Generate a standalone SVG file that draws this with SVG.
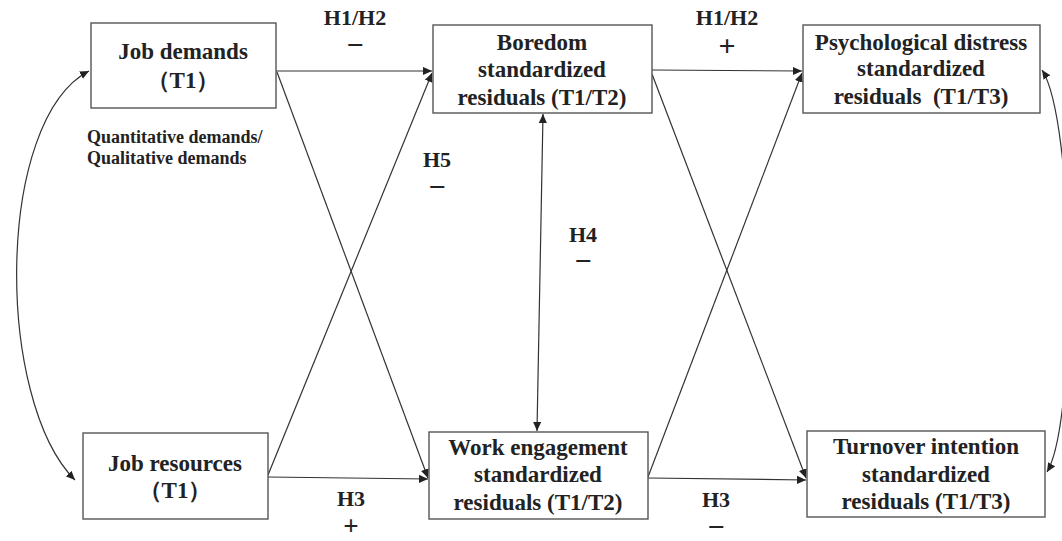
<svg xmlns="http://www.w3.org/2000/svg" width="1062" height="541" viewBox="0 0 1062 541">
<defs>
<style>
.box{fill:#fff;stroke:#555;stroke-width:1.4}
.t{font-family:"Liberation Serif","Times New Roman",serif;font-weight:bold;fill:#222;text-anchor:middle}
.n{font-size:23px}
.h{font-size:22px}
.s{font-size:30px}
.p{font-size:27px}
.q{font-size:18px;text-anchor:start}
.c{fill:none;stroke:#333;stroke-width:1.2}
</style>
<marker id="a" viewBox="0 0 10 10" refX="10" refY="5" markerWidth="9" markerHeight="9" markerUnits="userSpaceOnUse" orient="auto-start-reverse">
<path d="M0,0.5 L10,5 L0,9.5 Z" fill="#222"/>
</marker>
</defs>
<rect width="1062" height="541" fill="#fff"/>
<g id="connectors">
<path class="c" d="M276,71 L432,71" marker-end="url(#a)"/>
<path class="c" d="M277,72 L428,478" marker-end="url(#a)"/>
<path class="c" d="M268,475 L432,73" marker-end="url(#a)"/>
<path class="c" d="M268,477 L428,479" marker-end="url(#a)"/>
<path class="c" d="M652,70 L802,71" marker-end="url(#a)"/>
<path class="c" d="M652,74 L806,478" marker-end="url(#a)"/>
<path class="c" d="M648,477 L802,73" marker-end="url(#a)"/>
<path class="c" d="M648,478 L806,480" marker-end="url(#a)"/>
<path class="c" d="M543,114 L537,431" marker-start="url(#a)" marker-end="url(#a)"/>
<path class="c" d="M89,71 C-5,120 -5,400 75,480" marker-start="url(#a)" marker-end="url(#a)"/>
<path class="c" d="M1042,70 C1075,120 1078,420 1047,472" marker-start="url(#a)" marker-end="url(#a)"/>
</g>
<g id="job-demands">
<rect class="box" x="91" y="23" width="185" height="85"/>
<text class="t n" x="183" y="59">Job demands</text>
<text class="t n" x="183" y="88">（T1）</text>
</g>
<g id="demands-note">
<text class="t q" x="87" y="143">Quantitative demands/</text>
<text class="t q" x="87" y="164">Qualitative demands</text>
</g>
<g id="boredom">
<rect class="box" x="433" y="25" width="219" height="88"/>
<text class="t n" x="542" y="50">Boredom</text>
<text class="t n" x="542" y="77">standardized</text>
<text class="t n" x="542" y="105">residuals (T1/T2)</text>
</g>
<g id="psychological-distress">
<rect class="box" x="803" y="25" width="237" height="88"/>
<text class="t n" x="921" y="50">Psychological distress</text>
<text class="t n" x="921" y="76">standardized</text>
<text class="t n" x="921" y="104">residuals &#160;(T1/T3)</text>
</g>
<g id="job-resources">
<rect class="box" x="83" y="433" width="185" height="86"/>
<text class="t n" x="175" y="471">Job resources</text>
<text class="t n" x="175" y="498">（T1）</text>
</g>
<g id="work-engagement">
<rect class="box" x="429" y="432" width="219" height="87"/>
<text class="t n" x="538" y="455">Work engagement</text>
<text class="t n" x="538" y="482">standardized</text>
<text class="t n" x="538" y="510">residuals (T1/T2)</text>
</g>
<g id="turnover-intention">
<rect class="box" x="807" y="431" width="238" height="86"/>
<text class="t n" x="926" y="454">Turnover intention</text>
<text class="t n" x="926" y="482">standardized</text>
<text class="t n" x="926" y="509">residuals (T1/T3)</text>
</g>
<g id="labels">
<text class="t h" x="355" y="25">H1/H2</text>
<text class="t s" x="355" y="55">−</text>
<text class="t h" x="727" y="25">H1/H2</text>
<text class="t s" x="727" y="56">+</text>
<text class="t h" x="351" y="506">H3</text>
<text class="t p" x="351" y="535">+</text>
<text class="t h" x="437" y="167">H5</text>
<text class="t s" x="437" y="197">−</text>
<text class="t h" x="583" y="242">H4</text>
<text class="t s" x="583" y="271">−</text>
<text class="t h" x="716" y="507">H3</text>
<text class="t s" x="716" y="537">−</text>
</g>
</svg>
